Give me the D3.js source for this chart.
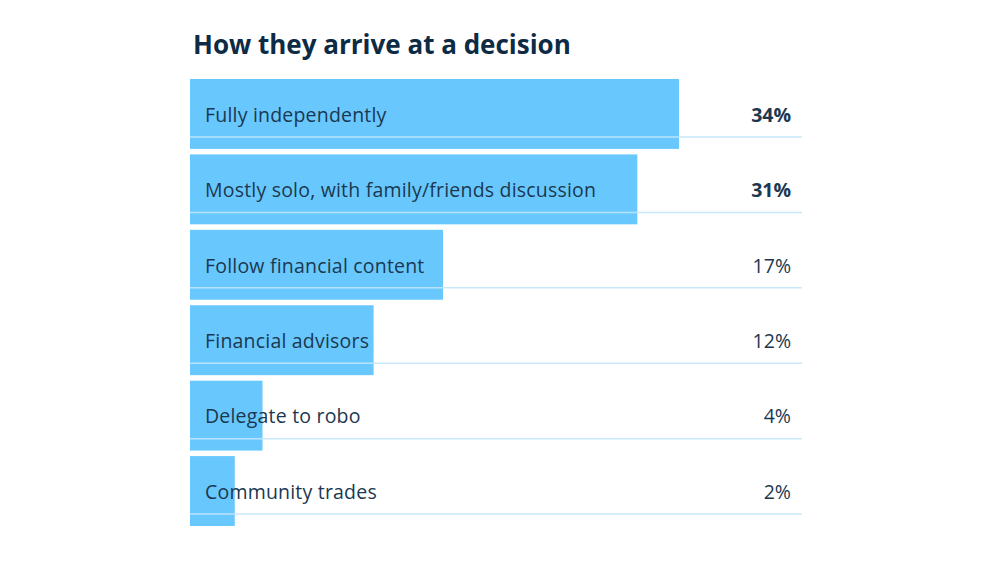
<!DOCTYPE html>
<html lang="en">
	<head>
		<meta charset="utf-8">
		<title>How they arrive at a decision</title>
		<style>
			body { margin: 0; background: #ffffff; }
			.chart text { font-family: "Open Sans", "Noto Sans", sans-serif; }
		</style>
	</head>
	<body>
		<svg class="chart"></svg>
		<script src="https://d3js.org/d3.v7.min.js"></script>
		<script type="text/javascript">

			// data
			var categories = [
				"Fully independently",
				"Mostly solo, with family/friends discussion",
				"Follow financial content",
				"Financial advisors",
				"Delegate to robo",
				"Community trades"
			];
			var shares = [34, 31, 17, 12, 4, 2];
			var valueLabels = ["34%", "31%", "17%", "12%", "4%", "2%"];
			var boldRows = [true, true, false, false, false, false];

			var width = 1000,
				height = 563,
				left = 190,
				lineEnd = 802;

			var svg = d3.select(".chart")
				.attr("width", width)
				.attr("height", height);

			// title
			svg.append("text")
				.attr("x", 193)
				.attr("y", 54)
				.attr("fill", "#0d2b45")
				.style("font-size", "26px")
				.style("font-weight", "700")
				.text("How they arrive at a decision");

			// scales
			var x = d3.scaleLinear()
				.domain([0, 34])
				.range([left + 17, 679]);

			var y = d3.scaleBand()
				.domain(categories)
				.range([79, 526])
				.paddingInner(0.073)
				.paddingOuter(0);

			var rows = svg.selectAll("g.row")
				.data(categories)
				.enter().append("g")
				.attr("class", "row")
				.attr("transform", function(d) { return "translate(0," + y(d) + ")"; });

			// bars
			rows.append("rect")
				.attr("x", left)
				.attr("width", function(d, i) { return x(shares[i]) - left; })
				.attr("height", y.bandwidth())
				.attr("fill", "#68c8fe");

			// separator lines
			rows.append("line")
				.attr("x1", left)
				.attr("x2", lineEnd)
				.attr("y1", 58)
				.attr("y2", 58)
				.attr("stroke", "#c2e5fb")
				.attr("stroke-opacity", 0.9)
				.attr("stroke-width", 1.5);

			// category labels
			rows.append("text")
				.attr("x", 205)
				.attr("y", y.bandwidth() / 2 + 1)
				.attr("dy", ".35em")
				.attr("fill", "#1b3850")
				.style("font-size", "19.5px")
				.style("letter-spacing", "0.2px")
				.text(function(d) { return d; });

			// values
			rows.append("text")
				.attr("x", 791)
				.attr("y", y.bandwidth() / 2 + 1)
				.attr("dy", ".35em")
				.attr("text-anchor", "end")
				.attr("fill", "#1b3850")
				.style("font-size", "19.5px")
				.style("font-weight", function(d, i) { return boldRows[i] ? "700" : "400"; })
				.text(function(d, i) { return valueLabels[i]; });

		</script>
	</body>
</html>
